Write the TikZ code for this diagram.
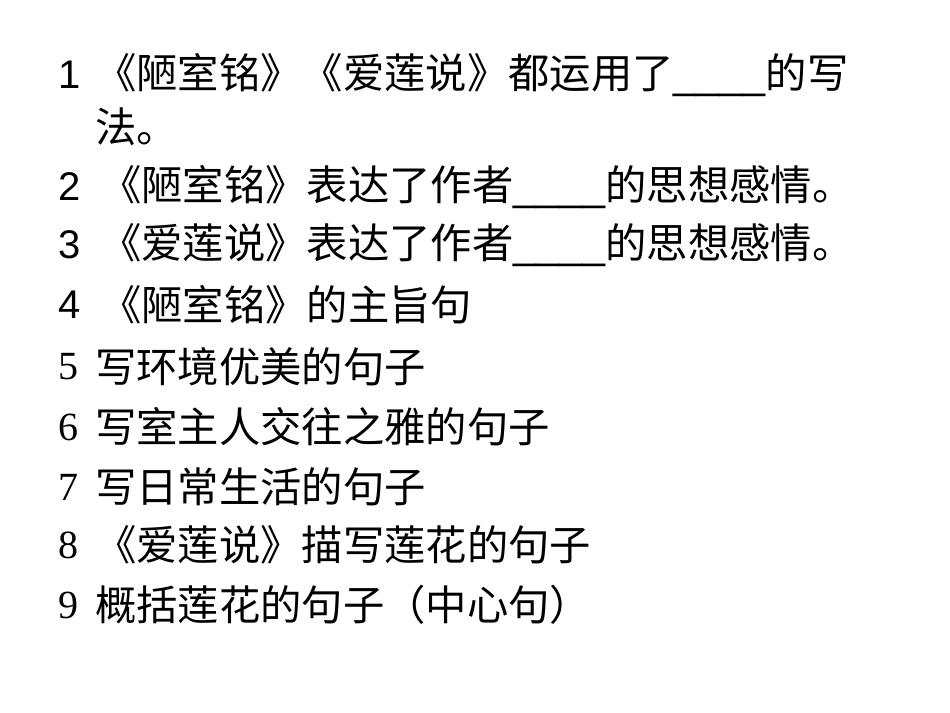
\documentclass[tikz,border=0pt]{standalone}
\usepackage{fontspec}
\setmainfont{Liberation Serif}
\newfontfamily\cjk{Noto Sans CJK SC}
\newfontfamily\arial{Liberation Sans}
\begin{document}
\begin{tikzpicture}[x=0.75pt,y=-0.75pt,
  num/.style={anchor=west,inner sep=0,font=\fontsize{30}{36}\selectfont\arial},
  snum/.style={anchor=west,inner sep=0,font=\fontsize{30}{36}\selectfont},
  txt/.style={anchor=west,inner sep=0,font=\fontsize{31}{36}\selectfont\cjk}]
\useasboundingbox (0,0) rectangle (950,713);
\node[num] (n1) at (58,75) {1};
\node[txt] (t1) at (95,75) {《陋室铭》《爱莲说》都运用了{\arial\_\_\_\_}的写};
\node[txt] (t1b) at (95,127) {法。};
\node[num] (n2) at (58,187) {2};
\node[txt] (t2) at (100,187) {《陋室铭》表达了作者{\arial\_\_\_\_}的思想感情。};
\node[num] (n3) at (58,245) {3};
\node[txt] (t3) at (100,245) {《爱莲说》表达了作者{\arial\_\_\_\_}的思想感情。};
\node[num] (n4) at (58,305) {4};
\node[txt] (t4) at (100,305) {《陋室铭》的主旨句};
\node[snum] (n5) at (58,367) {5};
\node[txt] (t5) at (95,367) {写环境优美的句子};
\node[snum] (n6) at (58,427) {6};
\node[txt] (t6) at (95,427) {写室主人交往之雅的句子};
\node[snum] (n7) at (58,487) {7};
\node[txt] (t7) at (95,487) {写日常生活的句子};
\node[snum] (n8) at (58,545) {8};
\node[txt] (t8) at (95,545) {《爱莲说》描写莲花的句子};
\node[snum] (n9) at (58,605) {9};
\node[txt] (t9) at (95,605) {概括莲花的句子（中心句）};
\end{tikzpicture}
\end{document}
